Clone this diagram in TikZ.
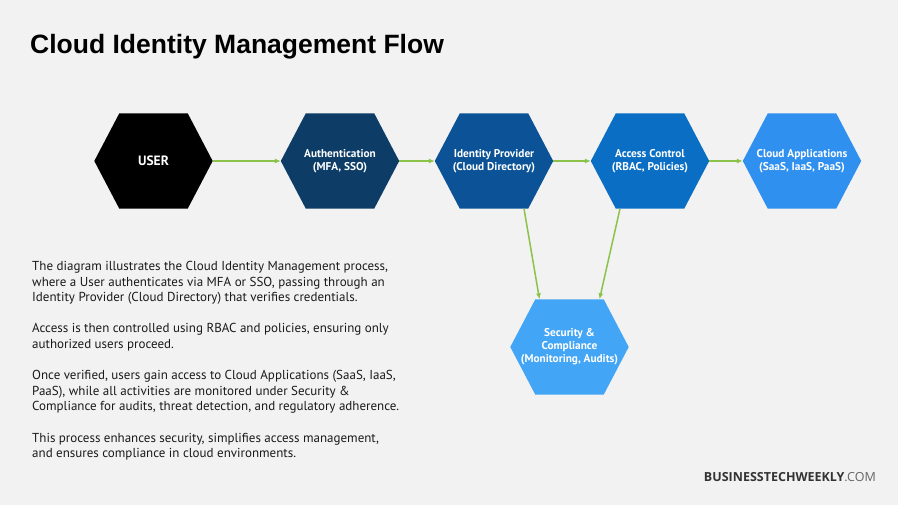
\documentclass[tikz,border=0pt]{standalone}
\usepackage{fontspec}
\setmainfont{PT Sans}
\newfontfamily\titlefont{Liberation Sans}
\newfontfamily\wmfont{Open Sans}
\usetikzlibrary{calc,arrows.meta,backgrounds}
\definecolor{bg}{HTML}{F2F2F2}
\definecolor{cuser}{HTML}{000000}
\definecolor{cauth}{HTML}{0D3D66}
\definecolor{cidp}{HTML}{0B5396}
\definecolor{cacc}{HTML}{0A6FC4}
\definecolor{capp}{HTML}{3090F0}
\definecolor{csec}{HTML}{42A5F5}
\definecolor{cgreen}{HTML}{8BC34A}
\definecolor{ctext}{HTML}{1A1A1A}
\newcommand\hexfill[2]{%
  \fill[#2] (#1.west) -- ($(#1.north west)+(25,0)$) -- ($(#1.north east)+(-25,0)$)
    -- (#1.east) -- ($(#1.south east)+(-25,0)$) -- ($(#1.south west)+(25,0)$) -- cycle;}
\begin{document}
\begin{tikzpicture}[x=1pt,y=-1pt,
  hexbox/.style={minimum width=118pt, minimum height=95pt, inner sep=0pt,
    text=white, align=center, font=\bfseries\fontsize{11.3}{12.8}\selectfont},
  flow/.style={draw=cgreen, line width=1.5pt, -{Latex[length=6pt,width=5pt]}}]
\useasboundingbox (0,0) rectangle (898,505);
\node[anchor=base west, font=\titlefont\bfseries\fontsize{26.5}{30}\selectfont, text=black, inner sep=0pt] (title) at (30,53.5) {Cloud Identity Management Flow};

\node[hexbox, font=\bfseries\fontsize{13.5}{15}\selectfont] (user) at (153.5,161) {USER};
\node[hexbox] (auth) at (340,161) {Authentication\\(MFA, SSO)};
\node[hexbox] (idp) at (494,161) {Identity Provider\\(Cloud Directory)};
\node[hexbox] (acc) at (650,161) {Access Control\\(RBAC, Policies)};
\node[hexbox] (app) at (802,161) {Cloud Applications\\(SaaS, IaaS, PaaS)};
\node[hexbox] (sec) at (569.5,347) {Security \&\\Compliance\\(Monitoring, Audits)};

\begin{scope}[on background layer]
  \fill[bg] (0,0) rectangle (898,505);
  \hexfill{user}{cuser}
  \hexfill{auth}{cauth}
  \hexfill{idp}{cidp}
  \hexfill{acc}{cacc}
  \hexfill{app}{capp}
  \hexfill{sec}{csec}
\end{scope}

\draw[flow] (user.east) -- (auth.west);
\draw[flow] (auth.east) -- (idp.west);
\draw[flow] (idp.east) -- (acc.west);
\draw[flow] (acc.east) -- (app.west);
\draw[flow] ($(idp.south)+(30,0)$) -- ($(sec.north)+(-30,0)$);
\draw[flow] ($(acc.south)+(-30,0)$) -- ($(sec.north)+(30,0)$);

\node[anchor=north west, inner sep=0pt, align=left, text=ctext,
  font=\fontsize{13}{15.6}\selectfont] (desc) at (32,261) {%
The diagram illustrates the Cloud Identity Management process,\\
where a User authenticates via MFA or SSO, passing through an\\
Identity Provider (Cloud Directory) that verifies credentials.\\[15.6pt]
Access is then controlled using RBAC and policies, ensuring only\\
authorized users proceed.\\[15.6pt]
Once verified, users gain access to Cloud Applications (SaaS, IaaS,\\
PaaS), while all activities are monitored under Security \&\\
Compliance for audits, threat detection, and regulatory adherence.\\[15.6pt]
This process enhances security, simplifies access management,\\
and ensures compliance in cloud environments.};

\node[anchor=base east, inner sep=0pt, font=\wmfont\fontsize{12.5}{14}\selectfont] (wm) at (876,481)
  {\textcolor[HTML]{333333}{\bfseries BUSINESSTECHWEEKLY}\textcolor[HTML]{666666}{.COM}};
\end{tikzpicture}
\end{document}
